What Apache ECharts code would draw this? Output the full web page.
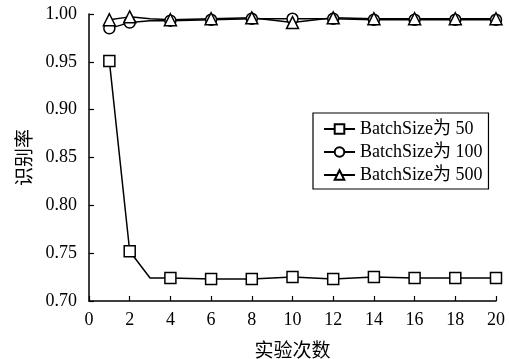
<!DOCTYPE html>
<html><head><meta charset="utf-8">
<script src="https://cdn.jsdelivr.net/npm/echarts@6/dist/echarts.min.js"></script>
<style>html,body{margin:0;padding:0;background:#fff}#c{width:509px;height:359px}</style>
</head><body><div id="c"></div>
<script>
var xValues = [1, 2, 3, 4, 6, 8, 10, 12, 14, 16, 18, 20];
var markerShown = [true, true, false, true, true, true, true, true, true, true, true, true];
var bs50 = [0.951, 0.752, 0.724, 0.724, 0.723, 0.723, 0.725, 0.723, 0.725, 0.724, 0.724, 0.724];
var bs100 = [0.985, 0.991, 0.993, 0.993, 0.994, 0.995, 0.995, 0.995, 0.994, 0.994, 0.994, 0.994];
var bs500 = [0.994, 0.997, 0.995, 0.994, 0.995, 0.996, 0.991, 0.996, 0.995, 0.995, 0.995, 0.995];
var seriesNames = ['BatchSize为 50', 'BatchSize为 100', 'BatchSize为 500'];
var xTicks = [0, 2, 4, 6, 8, 10, 12, 14, 16, 18, 20];
var yTicks = [0.70, 0.75, 0.80, 0.85, 0.90, 0.95, 1.00];
var xTitle = '实验次数';
var yTitle = '识别率';

var FONT = '"Liberation Serif", "Noto Sans CJK SC", serif';
function mk(vals) {
  return xValues.map(function (x, i) {
    var d = {value: [x, vals[i]]};
    if (!markerShown[i]) d.symbol = 'none';
    return d;
  });
}
function series(name, vals, sym, size) {
  return {
    name: name, type: 'line', data: mk(vals), symbol: sym, symbolSize: size,
    showAllSymbol: true,
    lineStyle: {color: '#000', width: 1.5},
    itemStyle: {color: '#fff', borderColor: '#000', borderWidth: 1.5},
    emphasis: {disabled: true}, animation: false
  };
}
var chart = echarts.init(document.getElementById('c'));
chart.setOption({
  animation: false,
  backgroundColor: '#fff',
  grid: {left: 89, right: 13, top: 14, bottom: 58, containLabel: false, outerBoundsMode: 'none'},
  legend: {
    left: 313, top: 113, orient: 'vertical', itemGap: 5,
    itemWidth: 31, itemHeight: 12,
    borderColor: '#000', borderWidth: 1.2, padding: [7, 6, 5, 10],
    textStyle: {fontFamily: FONT, fontSize: 18, color: '#000'},
    data: seriesNames
  },
  xAxis: {
    type: 'value', min: xTicks[0], max: xTicks[xTicks.length - 1], interval: 2,
    name: xTitle, nameLocation: 'middle', nameGap: 42, nameMoveOverlap: false,
    nameTextStyle: {fontFamily: FONT, fontSize: 19, color: '#000'},
    axisLine: {lineStyle: {color: '#000', width: 1.5}},
    axisTick: {inside: true, length: 5, lineStyle: {color: '#000', width: 1.2}},
    axisLabel: {fontFamily: FONT, fontSize: 18, color: '#000', margin: 10},
    splitLine: {show: false}
  },
  yAxis: {
    type: 'value', min: yTicks[0], max: yTicks[yTicks.length - 1], interval: 0.05,
    name: yTitle, nameLocation: 'middle', nameGap: 53, nameRotate: 90, nameMoveOverlap: false,
    nameTextStyle: {fontFamily: FONT, fontSize: 19, color: '#000'},
    axisLine: {show: true, lineStyle: {color: '#000', width: 1.5}},
    axisTick: {show: true, inside: true, length: 5, lineStyle: {color: '#000', width: 1.2}},
    axisLabel: {fontFamily: FONT, fontSize: 18, color: '#000', margin: 12,
      formatter: function (v) { return v.toFixed(2); }},
    splitLine: {show: false}
  },
  series: [
    series(seriesNames[0], bs50, 'rect', 11),
    series(seriesNames[1], bs100, 'circle', 11),
    series(seriesNames[2], bs500, 'triangle', 12)
  ]
});
</script></body></html>
